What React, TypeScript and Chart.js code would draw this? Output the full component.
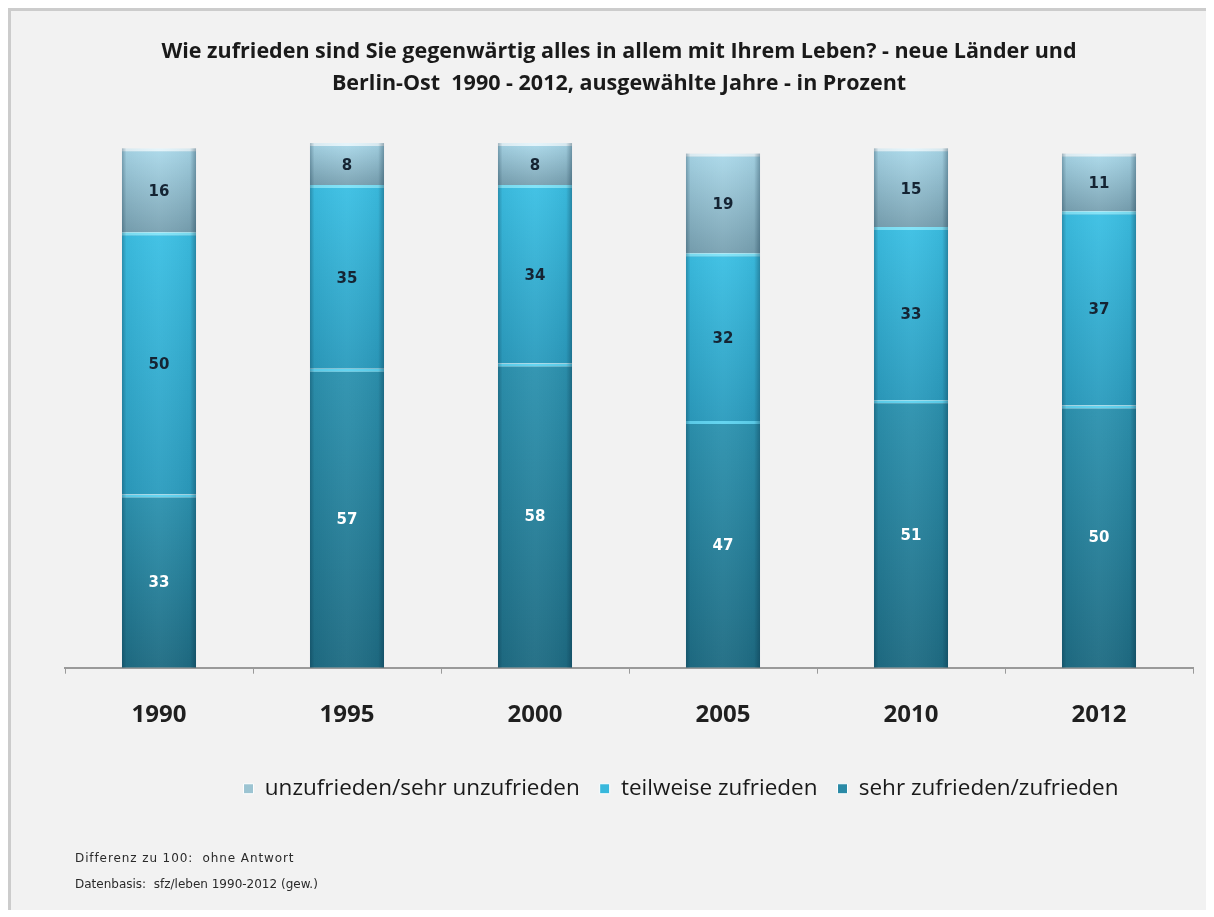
import React, { useEffect, useRef } from "react";
import { Chart, registerables } from "chart.js";

Chart.register(...registerables);

const years = ["1990", "1995", "2000", "2005", "2010", "2012"];
const sehrZufrieden = [33, 57, 58, 47, 51, 50];
const teilweiseZufrieden = [50, 35, 34, 32, 33, 37];
const unzufrieden = [16, 8, 8, 19, 15, 11];

const seriesNames = ["sehr zufrieden/zufrieden", "teilweise zufrieden", "unzufrieden/sehr unzufrieden"];
const titleLines = [
  "Wie zufrieden sind Sie gegenwärtig alles in allem mit Ihrem Leben? - neue Länder und",
  "Berlin-Ost  1990 - 2012, ausgewählte Jahre - in Prozent",
];
const footnotes = ["Differenz zu 100:  ohne Antwort", "Datenbasis:  sfz/leben 1990-2012 (gew.)"];

const allSeries = [sehrZufrieden, teilweiseZufrieden, unzufrieden];
const gradStops = [
  ["#2d93b0", "#1f6c83"],
  ["#3cc0e4", "#2c9cbe"],
  ["#abd9ea", "#7aa2b2"],
];
const topBorder = ["#5fd3f0", "#7fe3f8", "#e4f4fa"];
const legendColors = ["#2a8aa6", "#38b8dc", "#9cc4d2"];
const labelColors = ["#ffffff", "#152433", "#152433"];

function segGradient(ctx: any, di: number) {
  const chart = ctx.chart;
  const area = chart.chartArea;
  const y = chart.scales?.y;
  if (!area || !y || ctx.dataIndex === undefined) return gradStops[di][0];
  const i = ctx.dataIndex;
  let base = 0;
  for (let k = 0; k < di; k++) base += allSeries[k][i];
  const top = base + allSeries[di][i];
  const y0 = y.getPixelForValue(top);
  const y1 = y.getPixelForValue(base);
  if (!isFinite(y0) || !isFinite(y1) || y0 === y1) return gradStops[di][0];
  const g = chart.ctx.createLinearGradient(0, y0, 0, y1);
  g.addColorStop(0, gradStops[di][0]);
  g.addColorStop(1, gradStops[di][1]);
  return g;
}

const shadePlugin = {
  id: "shade",
  afterDatasetsDraw(chart: any) {
    const c = chart.ctx;
    const metas = chart.data.datasets.map((_: any, i: number) => chart.getDatasetMeta(i));
    const n = chart.data.labels.length;
    for (let i = 0; i < n; i++) {
      const bottom = metas[0].data[i];
      const top = metas[metas.length - 1].data[i];
      const left = bottom.x - bottom.width / 2;
      const w = bottom.width;
      const g = c.createLinearGradient(left, 0, left + w, 0);
      g.addColorStop(0, "rgba(0,30,50,0.30)");
      g.addColorStop(0.06, "rgba(0,30,50,0.05)");
      g.addColorStop(0.5, "rgba(255,255,255,0.04)");
      g.addColorStop(0.92, "rgba(0,30,50,0.06)");
      g.addColorStop(1, "rgba(0,30,50,0.35)");
      c.save();
      c.fillStyle = g;
      c.fillRect(left, top.y, w, bottom.base - top.y);
      c.restore();
    }
  },
};

const labelPlugin = {
  id: "segLabels",
  afterDatasetsDraw(chart: any) {
    const c = chart.ctx;
    c.save();
    c.font = "bold 15px 'DejaVu Sans'";
    c.textAlign = "center";
    c.textBaseline = "middle";
    chart.data.datasets.forEach((ds: any, di: number) => {
      const meta = chart.getDatasetMeta(di);
      meta.data.forEach((el: any, i: number) => {
        c.fillStyle = labelColors[di];
        c.fillText(String(ds.data[i]), el.x, (el.y + el.base) / 2 + 2);
      });
    });
    c.restore();
  },
};

// the legend in the original sits right of centre
const legendShiftPlugin = {
  id: "legendShift",
  afterLayout(chart: any) {
    const lg = chart.legend;
    if (lg) {
      lg.left += 124;
    }
  },
};

function ChartCanvas() {
  const ref = useRef<HTMLCanvasElement>(null);
  useEffect(() => {
    if (!ref.current) return;
    const chart = new Chart(ref.current, {
      type: "bar",
      data: {
        labels: years,
        datasets: allSeries.map((data, di) => ({
          label: seriesNames[di],
          data,
          backgroundColor: (ctx: any) => segGradient(ctx, di),
          borderColor: topBorder[di],
          borderWidth: { top: 3, left: 0, right: 0, bottom: 0 },
          borderSkipped: false,
          categoryPercentage: 1,
          barPercentage: 0.394,
        })),
      },
      options: {
        responsive: false,
        animation: false,
        layout: { padding: { top: 0, left: 34, right: 15, bottom: 100 } },
        scales: {
          x: {
            stacked: true,
            grid: { drawOnChartArea: false, drawTicks: true, tickLength: 6, offset: true, color: "#9a9a9a" },
            border: { color: "#9a9a9a", width: 2 },
            ticks: { color: "#1f1f1f", font: { family: "'Open Sans'", size: 24, weight: "bold" }, padding: 27 },
            afterFit: (scale: any) => {
              scale.height += 1;
            },
          },
          y: {
            stacked: true,
            display: true,
            min: 0,
            max: 100,
            grid: { display: false },
            border: { display: false },
            ticks: { display: false },
            afterFit: (scale: any) => {
              scale.width = 20;
            },
          },
        },
        plugins: {
          title: {
            display: true,
            text: titleLines,
            color: "#1a1a1a",
            font: { family: "'Open Sans'", size: 21.5, weight: "bold", lineHeight: 1.49 },
            padding: { top: 25, bottom: 43 },
          },
          legend: {
            position: "bottom",
            reverse: true,
            labels: {
              boxWidth: 10,
              boxHeight: 10,
              padding: 20,
              color: "#1a1a1a",
              font: { family: "'Open Sans'", size: 22.5 },
              generateLabels: (ch: any) =>
                ch.data.datasets.map((ds: any, i: number) => ({
                  text: ds.label,
                  fillStyle: legendColors[i],
                  strokeStyle: "#ffffff",
                  lineWidth: 1,
                  datasetIndex: i,
                  hidden: false,
                  fontColor: "#1a1a1a",
                })),
            },
          },
          tooltip: { enabled: false },
        },
      },
      plugins: [shadePlugin, labelPlugin, legendShiftPlugin],
    });
    return () => chart.destroy();
  }, []);
  return <canvas ref={ref} width={1197} height={899} style={{ position: "absolute", left: 0, top: 0 }} />;
}

export default function App() {
  return (
    <div
      style={{
        position: "relative",
        width: 1200,
        height: 902,
        boxSizing: "border-box",
        borderTop: "3px solid #cccccc",
        borderLeft: "3px solid #cccccc",
        background: "#f2f2f2",
        overflow: "hidden",
      }}
    >
      <ChartCanvas />
      {footnotes.map((t, i) => (
        <div
          key={i}
          style={{
            position: "absolute",
            left: 64,
            top: 840 + i * 26,
            fontFamily: "'DejaVu Sans', sans-serif",
            fontSize: 12,
            color: "#2a2a2a",
            whiteSpace: "pre",
            letterSpacing: i === 0 ? 0.9 : 0,
          }}
        >
          {t}
        </div>
      ))}
    </div>
  );
}
